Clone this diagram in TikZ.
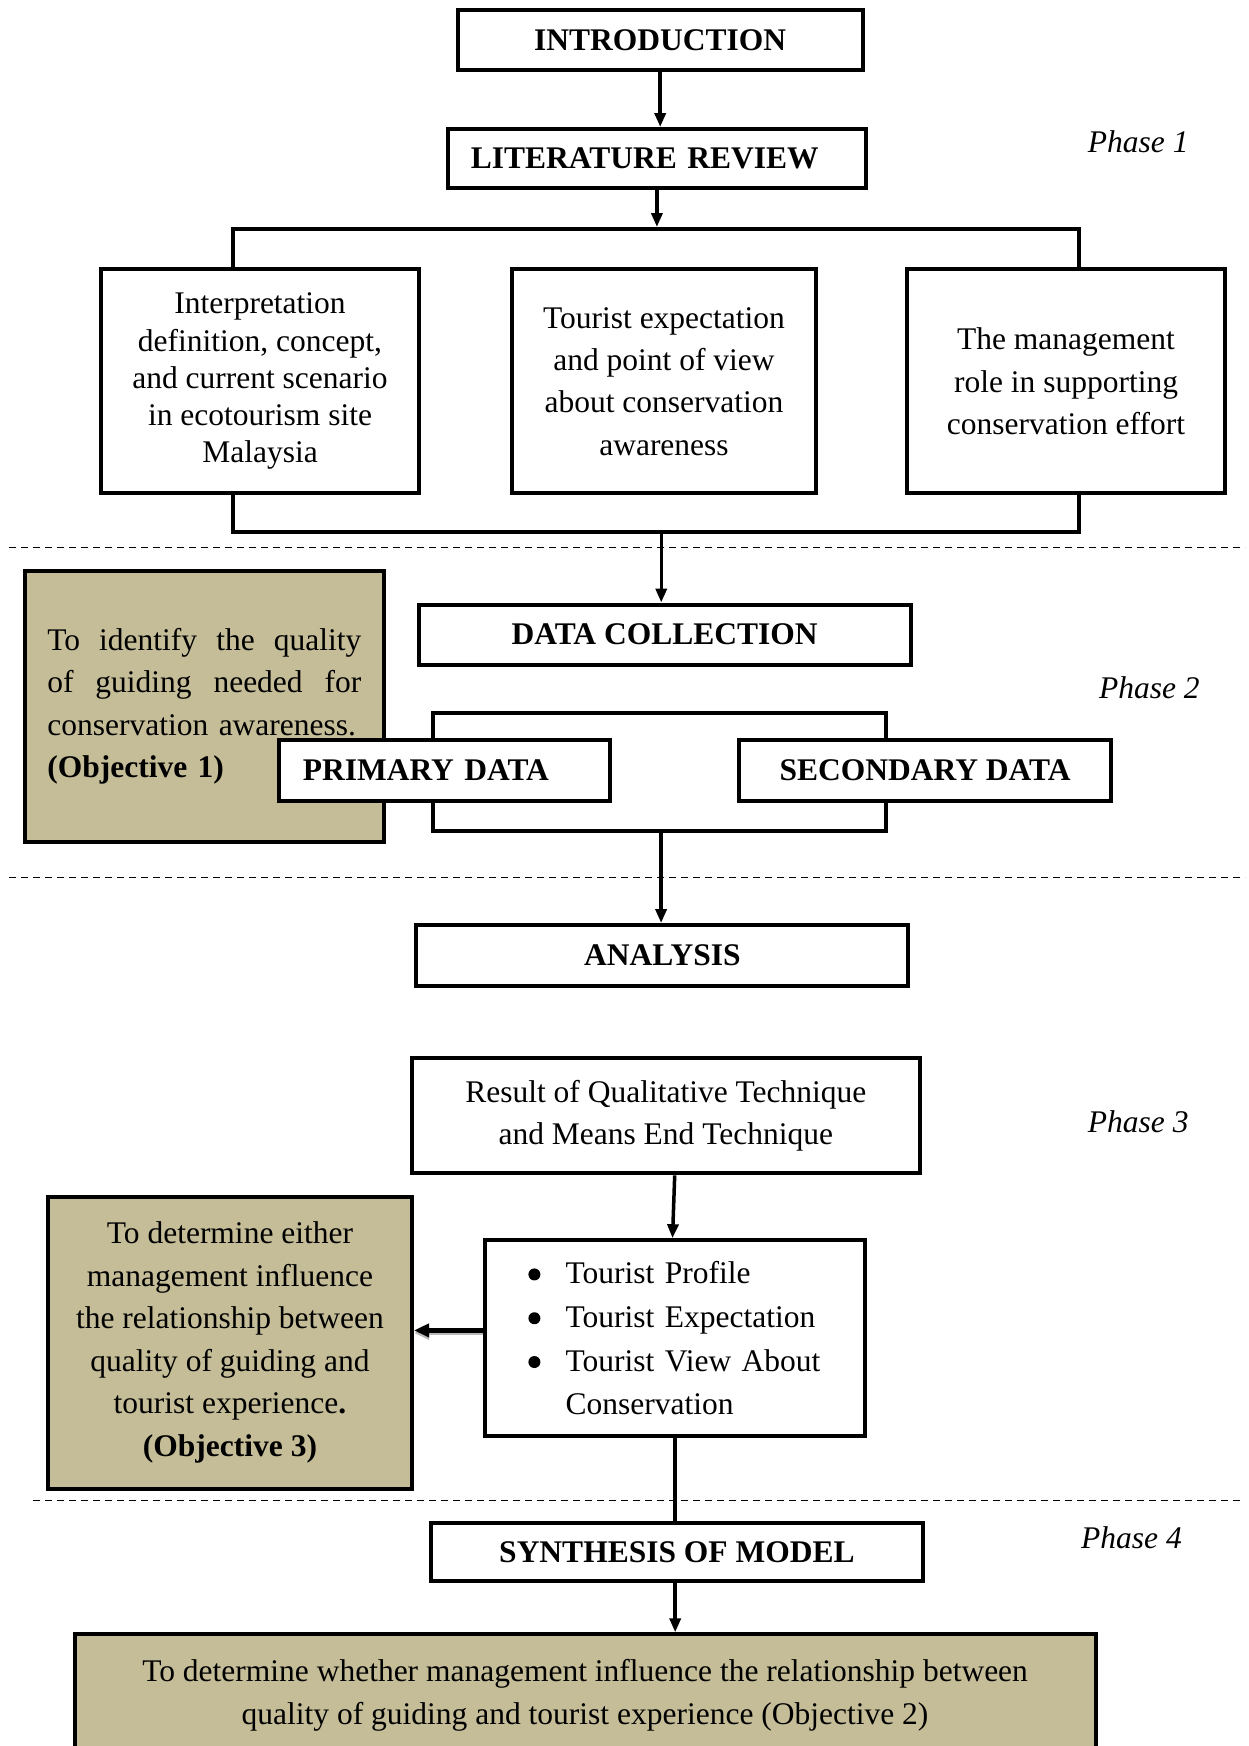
\documentclass[tikz,border=0pt]{standalone}
\usepackage{fontspec}
\setmainfont{Liberation Serif}
\usetikzlibrary{arrows.meta}
\definecolor{objtan}{RGB}{196,189,151}
\newcommand{\bigdot}{\raisebox{3pt}{\tikz\fill (0,0) circle (6pt);}}
\begin{document}
\begin{tikzpicture}[x=1pt,y=-1pt,
  box/.style={draw, line width=4pt, fill=white, inner sep=0pt, align=center},
  frame/.style={draw, line width=4pt, inner sep=0pt},
  objbox/.style={draw, line width=4pt, fill=objtan, inner sep=0pt, align=center},
  arr/.style={line width=3.5pt, -{Triangle[length=14pt,width=11pt]}},
  conn/.style={line width=3.5pt},
  sepline/.style={line width=1.3pt, dash pattern=on 7pt off 5pt},
  phase/.style={anchor=west, inner sep=0pt, font=\itshape\fontsize{31.5}{38}\selectfont},
  hd/.style={font=\bfseries\fontsize{31.5}{38}\selectfont},
  body/.style={font=\fontsize{31.5}{42.5}\selectfont}
]
\useasboundingbox (0,0) rectangle (1248,1746);

% ---------- Phase 1 ----------
\node[box, hd, minimum width=405.2pt, minimum height=60pt] (intro) at (660.2,40) {INTRODUCTION};
\node[box, hd, align=left, inner xsep=23.4pt, text width=371.9pt, minimum height=59pt] (lit) at (656.9,158.5) {LITERATURE REVIEW};
\node[frame, minimum width=846.1pt, minimum height=303pt] (br1) at (655.75,380.5) {};
\node[box, font=\fontsize{31.5}{37.3}\selectfont, minimum width=317.3pt, minimum height=223.8pt] (b1) at (260,381.3)
  {Interpretation\\definition, concept,\\and current scenario\\in ecotourism site\\Malaysia};
\node[box, font=\fontsize{31.5}{42.3}\selectfont, minimum width=303.9pt, minimum height=223.8pt] (b2) at (664,381.3)
  {Tourist expectation\\and point of view\\about conservation\\awareness};
\node[box, font=\fontsize{31.5}{42.3}\selectfont, minimum width=317.3pt, minimum height=223.8pt] (b3) at (1066,381.3)
  {The management\\role in supporting\\conservation effort};
\node[phase] (ph1) at (1087.7,141.4) {Phase 1};

\draw[arr] (intro.south) -- (intro.south |- lit.north);
\draw[arr] (lit.south) -- (lit.south |- br1.north);

\draw[sepline] (9,547.7) -- (1245,547.7);

% ---------- Phase 2 ----------
\node[box, hd, minimum width=492.1pt, minimum height=60.1pt] (dc) at (664.65,634.55) {DATA COLLECTION};
\coordinate (br1out) at ([xshift=5.5pt]br1.south);
\draw[arr] (br1out) -- (br1out |- dc.north);

\node[frame, minimum width=453.2pt, minimum height=118pt] (br2) at (659.6,771.5) {};
\node[objbox, body, align=left, inner xsep=22.8pt, text width=314pt, minimum height=270.6pt] (obj1) at (204.3,706.3)
  {\makebox[314pt][s]{To\hfill identify\hfill the\hfill quality}\\
   \makebox[314pt][s]{of\hfill guiding\hfill needed\hfill for}\\
   conservation awareness.\\
   \textbf{(Objective 1)}};
\node[box, hd, align=left, inner xsep=23.4pt, text width=283.9pt, minimum height=60.2pt] (prim) at (444.75,770.4) {PRIMARY DATA};
\node[box, hd, minimum width=371.9pt, minimum height=60.2pt] (sec) at (925.15,770.4) {SECONDARY DATA};
\node[phase] (ph2) at (1098.8,688) {Phase 2};

\draw[sepline] (9,877.3) -- (1245,877.3);

\node[box, hd, minimum width=492pt, minimum height=61.4pt] (ana) at (662.4,955.7) {ANALYSIS};
\draw[arr] ([xshift=1.5pt]br2.south) -- ([xshift=1.5pt]br2.south |- ana.north);

% ---------- Phase 3 ----------
\node[box, font=\fontsize{31.5}{42.3}\selectfont, minimum width=507.6pt, minimum height=115.8pt] (res) at (665.8,1115.5)
  {Result of Qualitative Technique\\and Means End Technique};
\node[box, font=\fontsize{31.5}{43.8}\selectfont, align=left, inner xsep=10pt, text width=359.6pt, minimum height=196pt] (bul) at (675.2,1338.2)
  {\hspace*{33pt}\makebox[37.2pt][l]{\bigdot}Tourist Profile\\
   \hspace*{33pt}\makebox[37.2pt][l]{\bigdot}Tourist Expectation\\
   \hspace*{33pt}\makebox[37.2pt][l]{\bigdot}Tourist View About\\
   \hspace*{70.2pt}Conservation};
\node[objbox, body, minimum width=364.1pt, minimum height=291.7pt] (obj3) at (229.95,1342.65)
  {To determine either\\management influence\\the relationship between\\quality of guiding and\\tourist experience\textbf{.}\\\textbf{(Objective 3)}};
\node[phase] (ph3) at (1087.7,1122.2) {Phase 3};

\draw[arr] ([xshift=8.9pt]res.south) -- ([xshift=-2.7pt]bul.north);
\coordinate (bulout) at ([yshift=7.8pt]bul.west);
\draw[line width=5pt, gray!55, -{Triangle[length=15pt,width=13pt]}] ([yshift=-2.5pt]bulout) -- ([yshift=-2.5pt]bulout -| obj3.east);
\draw[line width=5pt, -{Triangle[length=15pt,width=13pt]}] (bulout) -- (bulout -| obj3.east);

\draw[sepline] (33.4,1500.7) -- (1245,1500.7);

% ---------- Phase 4 ----------
\node[box, hd, minimum width=492.2pt, minimum height=58pt] (syn) at (676.9,1552) {SYNTHESIS OF MODEL};
\node[phase] (ph4) at (1081,1537.5) {Phase 4};
\draw[conn] (bul.south) -- (bul.south |- syn.north);

\node[objbox, font=\fontsize{31.5}{43.4}\selectfont, minimum width=1020.9pt, minimum height=121.4pt] (obj2) at (585.05,1695)
  {To determine whether management influence the relationship between\\quality of guiding and tourist experience (Objective 2)};
\draw[arr] (syn.south -| bul.south) -- (bul.south |- obj2.north);

\end{tikzpicture}
\end{document}
